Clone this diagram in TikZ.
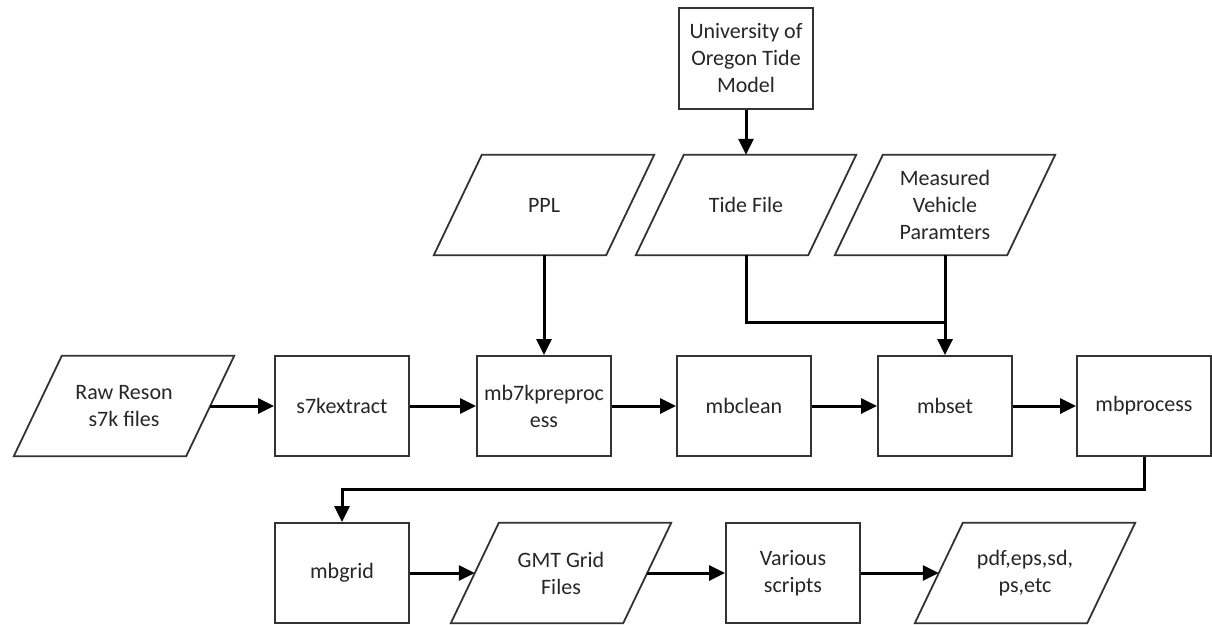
\documentclass[tikz,border=0pt]{standalone}
\usepackage{fontspec}
\setmainfont{Carlito}
\usetikzlibrary{calc,arrows.meta}
\begin{document}
\begin{tikzpicture}[x=1pt,y=-1pt,
  every node/.style={font=\fontsize{22}{27}\selectfont,text=black!85,align=center},
  proc/.style={draw=black!80,line width=1.8pt,minimum width=134pt,minimum height=100pt,inner sep=0pt},
  data/.style={minimum width=172pt,minimum height=100pt,inner sep=0pt},
  databox/.style={draw=black!80,line width=1.8pt},
  conn/.style={line width=3pt,-{Triangle[length=16pt,width=15pt]}},
  wire/.style={line width=3pt}]
\useasboundingbox (0,0) rectangle (1212,624);
% top
\node[proc,minimum height=101pt] (univ) at (746,58.5) {University of\\Oregon Tide\\Model};
\node[data] (ppl) at (544,205) {PPL};
\node[data] (tide) at (746,205) {Tide File};
\node[data] (meas) at (945,205) {Measured\\Vehicle\\Paramters};
% main row
\node[data] (raw) at (124,406) {Raw Reson\\s7k files};
\node[proc] (s7k) at (342,406) {s7kextract};
\node[proc] (mb7k) at (544,406) {mb7kpreproc\\ess};
\node[proc] (mbclean) at (744,406) {mbclean};
\node[proc] (mbset) at (945,406) {mbset};
\node[proc] (mbproc) at (1144,406) {mbprocess};
% bottom row
\node[proc] (mbgrid) at (342,573) {mbgrid};
\node[data] (gmt) at (561,573) {GMT Grid\\Files};
\node[proc] (various) at (793,573) {Various\\scripts};
\node[data] (out) at (1025,573) {pdf,eps,sd,\\ps,etc};
% parallelograms
\foreach \n in {ppl,tide,meas,raw,gmt,out}
  \draw[databox] ($(\n.north west)+(24,0)$) -- ($(\n.north east)+(24,0)$)
    -- ($(\n.south east)+(-24,0)$) -- ($(\n.south west)+(-24,0)$) -- cycle;
\coordinate (join) at (945,322);
\coordinate (turn) at (342,489);
\draw[conn] (univ) -- (tide);
\draw[conn] (ppl) -- (mb7k);
\draw[wire] (tide.south) |- (join);
\draw[conn] (meas) -- (mbset);
\draw[conn] (raw) -- (s7k);
\draw[conn] (s7k) -- (mb7k);
\draw[conn] (mb7k) -- (mbclean);
\draw[conn] (mbclean) -- (mbset);
\draw[conn] (mbset) -- (mbproc);
\draw[conn] (mbproc.south) |- (turn) -- (mbgrid.north);
\draw[conn] (mbgrid) -- (gmt);
\draw[conn] (gmt) -- (various);
\draw[conn] (various) -- (out);
\end{tikzpicture}
\end{document}
